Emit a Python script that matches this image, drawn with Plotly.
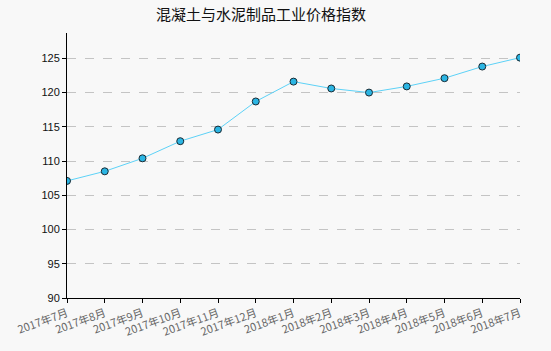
import plotly.graph_objects as go

months = ["2017年7月", "2017年8月", "2017年9月", "2017年10月", "2017年11月", "2017年12月",
          "2018年1月", "2018年2月", "2018年3月", "2018年4月", "2018年5月", "2018年6月", "2018年7月"]
values = [107.1, 108.5, 110.4, 112.9, 114.6, 118.7, 121.6, 120.6, 120.0, 120.9, 122.1, 123.8, 125.1]
y_ticks = [90, 95, 100, 105, 110, 115, 120, 125]
title = "混凝土与水泥制品工业价格指数"

fig = go.Figure()
fig.add_trace(go.Scatter(
    x=months, y=values, mode="lines+markers",
    line=dict(color="#5dd2f7", width=1),
    marker=dict(size=7, color="#2bb5e3", line=dict(color="#1a2a33", width=1)),
    hoverinfo="x+y",
))

fig.update_layout(
    width=551, height=351,
    paper_bgcolor="#f8f8f8", plot_bgcolor="#f8f8f8",
    margin=dict(l=67, r=31, t=33, b=53),
    showlegend=False,
    title=dict(text=title, x=261/551, xanchor="center", y=1 - 15/351, yanchor="middle",
               font=dict(family="Noto Sans CJK SC", size=15, color="#111")),
    xaxis=dict(
        type="category", range=[0, len(months) - 1],
        showline=True, linecolor="#000", linewidth=1,
        ticks="outside", ticklen=4, tickcolor="#000",
        tickangle=-20, showgrid=False, zeroline=False,
        tickfont=dict(family="Noto Sans CJK SC", size=11, color="#666"),
    ),
    yaxis=dict(
        range=[90, 128.7], tickvals=y_ticks,
        showline=True, linecolor="#000", linewidth=1,
        ticks="outside", ticklen=4, tickcolor="#000",
        showgrid=True, gridcolor="#c4c4c4", griddash="dash", gridwidth=1,
        zeroline=False,
        tickfont=dict(family="Liberation Sans", size=11, color="#111"),
    ),
)

fig.write_html("out.html")
